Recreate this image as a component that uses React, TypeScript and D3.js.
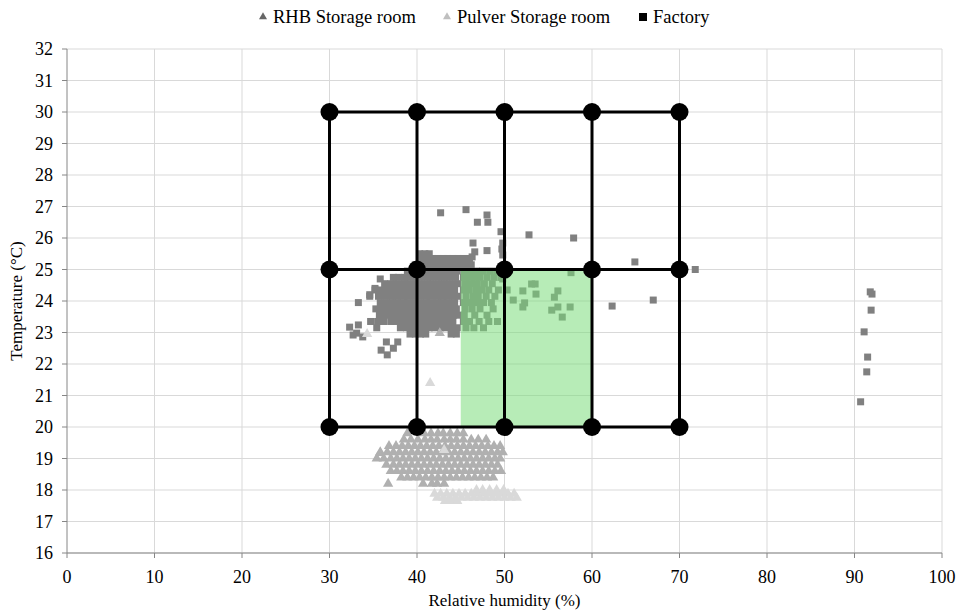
import React from "react";
import * as d3 from "d3";

// chart values
const xTicks = [0, 10, 20, 30, 40, 50, 60, 70, 80, 90, 100];
const yTicks = [16, 17, 18, 19, 20, 21, 22, 23, 24, 25, 26, 27, 28, 29, 30, 31, 32];

const comfortX = [30, 40, 50, 60, 70];
const comfortY = [20, 25, 30];
const greenZone = { x0: 45, x1: 60, y0: 20, y1: 25 };

// Factory (squares) - dense cluster written as rows: [y, xs]
const factoryRows: [number, number[]][] = [
  [25.5, [40.3, 40.9, 41.4]],
  [25.35, [40.5, 41.1, 41.8, 42.4, 43.0, 43.5, 44.1, 44.7, 45.3, 46.0]],
  [25.15, [39.8, 40.4, 41.0, 41.7, 42.3, 42.9, 43.6, 44.2, 44.8, 45.5, 46.2]],
  [24.95, [38.9, 39.5, 40.2, 40.8, 41.5, 42.1, 42.7, 43.4, 44.0, 44.6, 45.4, 46.1, 46.8, 47.5, 48.3, 49.1]],
  [24.75, [37.3, 37.9, 38.6, 39.2, 39.9, 40.5, 41.2, 41.8, 42.5, 43.1, 43.7, 44.4, 45.3, 46.0, 46.6, 47.2, 48.0, 48.8, 49.6]],
  [24.55, [36.3, 37.0, 37.6, 38.3, 38.9, 39.6, 40.2, 40.9, 41.5, 42.2, 42.8, 43.4, 44.1, 44.7, 45.5, 46.2, 46.9, 47.7, 48.6]],
  [24.35, [35.2, 35.9, 36.6, 37.3, 37.9, 38.6, 39.2, 39.9, 40.5, 41.2, 41.8, 42.4, 43.1, 43.7, 44.3, 45.3, 45.9, 46.7, 47.4, 48.2, 49.3]],
  [24.15, [34.6, 35.6, 36.3, 37.0, 37.6, 38.3, 38.9, 39.6, 40.2, 40.9, 41.5, 42.2, 42.8, 43.4, 44.1, 44.7, 45.6, 46.4, 47.0, 47.9, 48.9]],
  [23.95, [33.3, 35.8, 36.5, 37.2, 37.8, 38.5, 39.1, 39.8, 40.4, 41.1, 41.7, 42.4, 43.0, 43.6, 44.3, 45.3, 46.0, 46.8, 47.6, 48.5]],
  [23.75, [35.3, 36.0, 36.7, 37.4, 38.0, 38.7, 39.3, 40.0, 40.6, 41.3, 41.9, 42.6, 43.2, 43.8, 44.5, 45.5, 46.3, 47.2, 48.7]],
  [23.55, [35.7, 36.4, 37.1, 37.7, 38.4, 39.0, 39.7, 40.3, 41.0, 41.6, 42.3, 42.9, 43.5, 44.2, 44.8, 45.4, 46.6, 48.0]],
  [23.35, [34.7, 35.5, 36.2, 37.0, 37.6, 38.3, 38.9, 39.6, 40.2, 40.9, 41.5, 42.2, 42.8, 43.4, 44.1, 45.3, 46.0, 47.1, 48.2, 49.2]],
  [23.15, [35.4, 38.1, 38.8, 39.4, 40.1, 40.7, 41.4, 42.0, 42.7, 43.3, 44.0, 44.6, 45.6, 46.5, 47.6]],
  [22.95, [39.2, 39.8, 40.4, 41.0, 43.9, 44.5]],
];

const factoryScatter: [number, number][] = [
  [32.3, 23.17], [33.3, 23.24], [33.1, 22.98], [33.8, 22.86], [32.7, 22.92],
  [36.5, 22.7], [37.3, 22.5], [35.9, 22.44], [36.6, 22.29], [37.8, 22.7],
  [34.6, 24.2], [35.2, 24.4], [35.8, 24.7], [36.9, 24.3],
  [42.7, 26.8], [45.6, 26.9], [46.9, 26.5], [48.0, 26.73], [48.1, 26.5],
  [49.6, 26.2], [46.4, 25.84], [46.6, 25.56], [48.0, 25.6], [49.8, 25.84],
  [49.8, 25.46], [46.3, 25.4], [49.7, 25.65],
  [52.8, 26.1], [57.9, 26.0], [64.9, 25.24], [71.8, 25.0], [62.3, 23.84], [67.0, 24.03],
  [57.6, 24.9], [53.1, 24.54], [53.5, 24.54], [52.1, 24.32], [53.6, 24.22],
  [56.1, 24.32], [55.7, 24.12], [51.0, 24.03], [52.3, 23.94], [52.1, 23.81],
  [56.1, 23.81], [57.5, 23.81], [55.4, 23.71], [56.6, 23.49], [50.3, 24.35], [49.8, 24.7],
  [91.8, 24.29], [92.0, 24.22], [91.9, 23.71], [91.1, 23.02], [91.5, 22.22],
  [91.4, 21.75], [90.7, 20.8],
];

// RHB Storage room (medium grey triangles)
const rhbRows: [number, number[]][] = [
  [19.8, [38.9, 40.8, 41.6, 42.4, 43.0, 43.8, 44.6, 45.3]],
  [19.6, [38.5, 39.3, 40.1, 40.9, 41.6, 42.3, 43.1, 43.8, 44.5, 45.3, 46.2, 47.0, 47.9]],
  [19.4, [36.8, 37.6, 38.3, 39.0, 39.7, 40.4, 41.1, 41.8, 42.5, 43.2, 43.9, 44.6, 45.3, 46.0, 46.7, 47.4, 48.1, 48.8, 49.5]],
  [19.2, [35.8, 36.6, 37.3, 38.0, 38.7, 39.4, 40.1, 40.8, 41.5, 42.2, 42.9, 43.6, 44.3, 45.0, 45.7, 46.4, 47.1, 47.8, 48.5, 49.2, 49.8]],
  [19.0, [35.4, 36.2, 37.0, 37.7, 38.4, 39.1, 39.8, 40.5, 41.2, 41.9, 42.6, 43.3, 44.0, 44.7, 45.4, 46.1, 46.8, 47.5, 48.2, 48.9, 49.5]],
  [18.8, [36.5, 37.3, 38.0, 38.7, 39.4, 40.1, 40.8, 41.5, 42.2, 42.9, 43.6, 44.3, 45.0, 45.7, 46.4, 47.1, 47.8, 48.5, 49.2]],
  [18.6, [37.0, 37.7, 38.4, 39.1, 39.8, 40.5, 41.2, 41.9, 42.6, 43.3, 44.0, 44.7, 45.4, 46.1, 46.8, 47.5, 48.2, 48.9, 49.6]],
  [18.4, [38.2, 38.9, 39.6, 40.3, 41.0, 41.7, 42.4, 43.1, 43.8, 44.5, 45.2, 45.9, 46.6, 47.3, 48.0, 48.7]],
  [18.2, [36.7, 40.7, 41.7, 42.3, 43.1]],
];
const rhbScatter: [number, number][] = [[42.6, 22.98], [35.8, 19.17]];

// Pulver Storage room (light grey triangles)
const pulverRows: [number, number[]][] = [
  [18.0, [46.8, 47.5, 48.3, 49.1, 49.9]],
  [17.88, [42.0, 42.7, 43.4, 44.1, 44.8, 45.5, 46.2, 46.9, 47.6, 48.3, 49.0, 49.7, 50.4, 51.1]],
  [17.75, [42.3, 43.0, 43.7, 44.4, 45.1, 45.8, 46.5, 47.2, 47.9, 48.6, 49.3, 50.0, 50.7, 51.4]],
  [17.65, [43.2, 43.9, 44.6]],
];
const pulverScatter: [number, number][] = [[43.1, 19.27], [41.5, 21.4], [34.3, 22.95]];

const legendItems = [
  { label: "RHB Storage room", shape: "tri", color: "#666666" },
  { label: "Pulver Storage room", shape: "tri", color: "#bfbfbf" },
  { label: "Factory", shape: "sq", color: "#000000" },
];

const flatten = (rows: [number, number[]][]) =>
  rows.flatMap(([y, xs]) => xs.map((x) => [x, y] as [number, number]));

const W = 964;
const H = 614;
const margin = { left: 67, right: 22, top: 49, bottom: 61 };
const txt = { fontFamily: "'Liberation Serif', 'Times New Roman', Times, serif", fill: "#000" };

export default function App() {
  const x = d3.scaleLinear().domain([0, 100]).range([margin.left, W - margin.right]);
  const y = d3.scaleLinear().domain([16, 32]).range([H - margin.bottom, margin.top]);

  const factory = [...flatten(factoryRows), ...factoryScatter];
  const rhb = [...flatten(rhbRows), ...rhbScatter];
  const pulver = [...flatten(pulverRows), ...pulverScatter];

  const tri = d3.symbol().type(d3.symbolTriangle).size(46)() as string;
  const legendTri = d3.symbol().type(d3.symbolTriangle).size(28)() as string;
  const sq = 7;

  const legendX = [263, 447, 643];

  return (
    <svg
      width={W}
      height={H}
      style={{ position: "absolute", left: 0, top: 0, background: "#fff" }}
    >
      {/* grid */}
      {yTicks.map((t) => (
        <line key={"gy" + t} x1={x(0)} x2={x(100)} y1={y(t)} y2={y(t)} stroke="#d9d9d9" strokeWidth={1} />
      ))}
      {xTicks.slice(1).map((t) => (
        <line key={"gx" + t} x1={x(t)} x2={x(t)} y1={y(16)} y2={y(32)} stroke="#d9d9d9" strokeWidth={1} />
      ))}

      {/* axes */}
      <line x1={x(0)} x2={x(0)} y1={y(16)} y2={y(32)} stroke="#868686" />
      <line x1={x(0)} x2={x(100)} y1={y(16)} y2={y(16)} stroke="#868686" />
      {yTicks.map((t) => (
        <g key={"ty" + t}>
          <line x1={x(0) - 5} x2={x(0)} y1={y(t)} y2={y(t)} stroke="#868686" />
          <text x={x(0) - 14} y={y(t)} dy="0.35em" textAnchor="end" fontSize={18} style={txt}>
            {t}
          </text>
        </g>
      ))}
      {xTicks.map((t) => (
        <g key={"tx" + t}>
          <line x1={x(t)} x2={x(t)} y1={y(16)} y2={y(16) + 5} stroke="#868686" />
          <text x={x(t)} y={y(16) + 30} textAnchor="middle" fontSize={18} style={txt}>
            {t}
          </text>
        </g>
      ))}

      {/* data */}
      {factory.map(([a, b], i) => (
        <rect key={"f" + i} x={x(a) - sq / 2} y={y(b) - sq / 2} width={sq} height={sq} fill="#808080" />
      ))}
      {rhb.map(([a, b], i) => (
        <path key={"r" + i} d={tri} transform={`translate(${x(a)},${y(b)})`} fill="#b0b0b0" />
      ))}
      {pulver.map(([a, b], i) => (
        <path key={"p" + i} d={tri} transform={`translate(${x(a)},${y(b)})`} fill="#d9d9d9" />
      ))}

      {/* green zone */}
      <rect
        x={x(greenZone.x0)}
        y={y(greenZone.y1)}
        width={x(greenZone.x1) - x(greenZone.x0)}
        height={y(greenZone.y0) - y(greenZone.y1)}
        fill="rgb(122,220,122)"
        fillOpacity={0.54}
      />

      {/* black comfort grid */}
      {comfortY.map((v) => (
        <line key={"cy" + v} x1={x(30)} x2={x(70)} y1={y(v)} y2={y(v)} stroke="#000" strokeWidth={3} />
      ))}
      {comfortX.map((v) => (
        <line key={"cx" + v} x1={x(v)} x2={x(v)} y1={y(20)} y2={y(30)} stroke="#000" strokeWidth={3} />
      ))}
      {comfortX.flatMap((a) =>
        comfortY.map((b) => <circle key={`d${a}-${b}`} cx={x(a)} cy={y(b)} r={9} fill="#000" />)
      )}

      {/* axis titles */}
      <text x={x(50)} y={H - 8} textAnchor="middle" fontSize={17} style={txt}>
        Relative  humidity (%)
      </text>
      <text
        transform={`translate(22,${(y(16) + y(32)) / 2}) rotate(-90)`}
        textAnchor="middle"
        fontSize={17}
        style={txt}
      >
        Temperature (°C)
      </text>

      {/* legend */}
      {legendItems.map((d, i) => (
        <g key={d.label} transform={`translate(${legendX[i]},17)`}>
          {d.shape === "tri" ? (
            <path d={legendTri} fill={d.color} />
          ) : (
            <rect x={-4} y={-4} width={8} height={8} fill={d.color} />
          )}
          <text x={10} y={0} dy="0.35em" fontSize={18.5} style={txt}>
            {d.label}
          </text>
        </g>
      ))}
    </svg>
  );
}
